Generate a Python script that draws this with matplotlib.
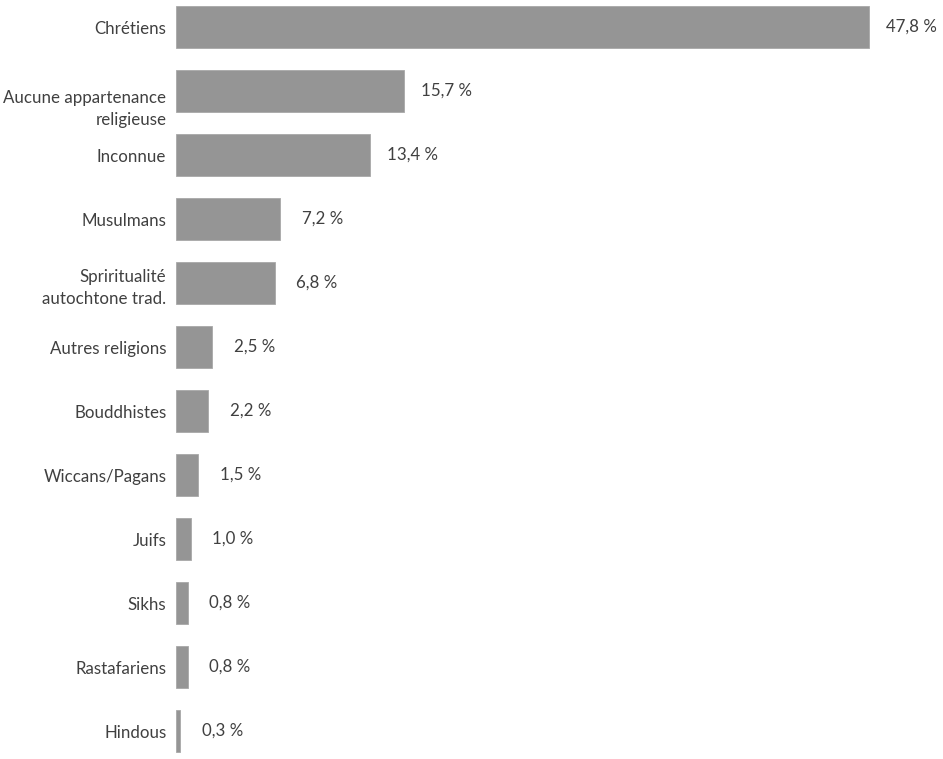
import matplotlib
matplotlib.use("Agg")
from matplotlib import pyplot as plt
from matplotlib.transforms import ScaledTranslation

# data
categories = ["Chrétiens", "Aucune appartenance\nreligieuse", "Inconnue", "Musulmans",
              "Spriritualité\nautochtone trad.", "Autres religions", "Bouddhistes",
              "Wiccans/Pagans", "Juifs", "Sikhs", "Rastafariens", "Hindous"]
values = [47.8, 15.7, 13.4, 7.2, 6.8, 2.5, 2.2, 1.5, 1.0, 0.8, 0.8, 0.3]
labels = ["47,8 %", "15,7 %", "13,4 %", "7,2 %", "6,8 %", "2,5 %", "2,2 %",
          "1,5 %", "1,0 %", "0,8 %", "0,8 %", "0,3 %"]

plt.rcParams['font.family'] = ['Lato', 'DejaVu Sans']
text_col = "#404040"
fs = 12.2

fig = plt.figure(figsize=(9.43, 7.59), dpi=100)
ax = fig.add_axes([176 / 943, 0, 1 - 176 / 943, 1])

pos = list(range(len(categories)))
ax.barh(pos, values, height=0.66, color="#959595", edgecolor="#a8a8a8", linewidth=0.6)

# value labels: centred a fixed distance past the bar end
for p, v, lab in zip(pos, values, labels):
    ax.text(v + 2.93, p, lab, va="center", ha="center", fontsize=fs, color=text_col)

ax.set_xlim(0, 767 / 14.5)
ax.set_ylim(11.4375, -0.422)
ax.set_yticks(pos)
ax.set_yticklabels(categories, fontsize=fs, color=text_col, linespacing=1.5)
ax.tick_params(axis="y", length=0, pad=7)
ax.set_xticks([])
for s in ax.spines.values():
    s.set_visible(False)

# the second label sits lower than its bar in the original
tl = ax.get_yticklabels()[1]
tl.set_transform(tl.get_transform() + ScaledTranslation(0, -13 / 100, fig.dpi_scale_trans))

fig.savefig("out.png", dpi=100)
